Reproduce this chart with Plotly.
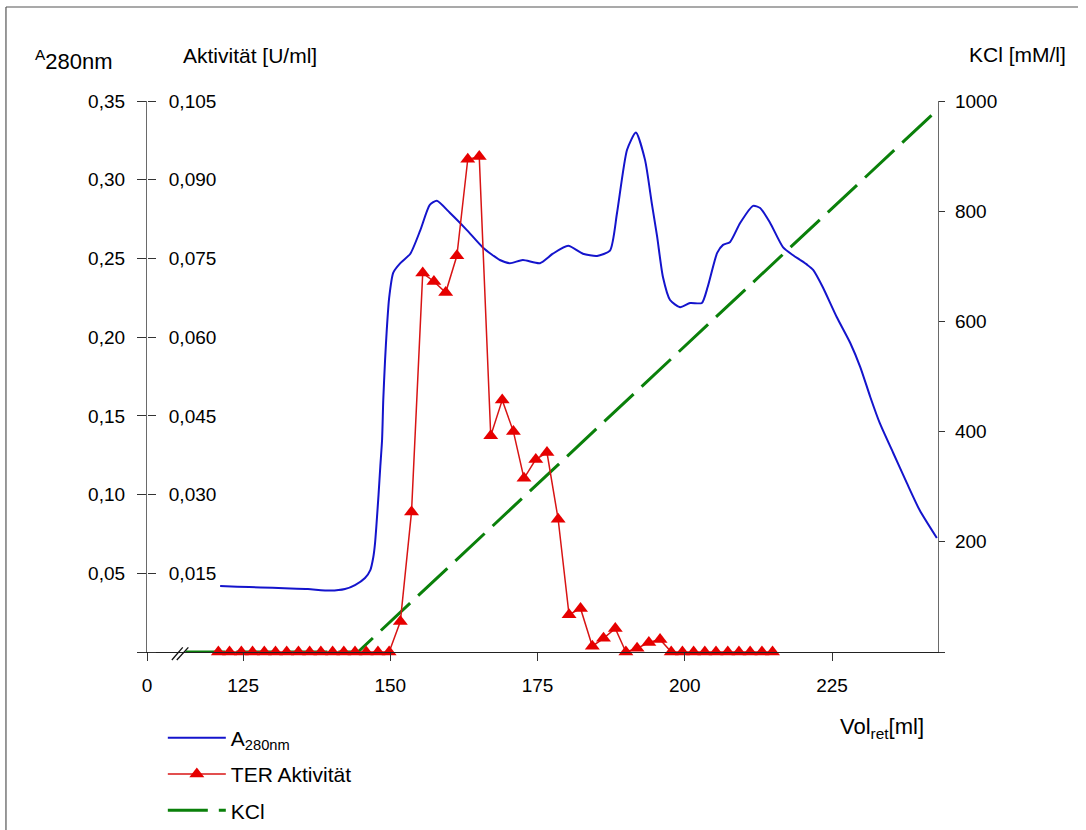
import plotly.graph_objects as go

# ---- data ----
vol_a280 = [121.1, 124.0, 128.0, 132.0, 136.0, 139.8, 142.3, 144.0, 145.7, 146.6,
            147.1, 147.4, 148.0, 148.3, 148.6, 148.8, 149.1, 149.4, 149.8, 150.5,
            151.7, 153.4, 155.1, 156.7, 157.9, 160.1, 163.0, 165.7, 168.6, 170.3,
            172.5, 175.4, 177.6, 180.2, 182.7, 185.1, 187.3, 188.5, 190.2, 191.7,
            193.25, 194.4, 195.3, 196.3, 197.5, 199.2, 200.9, 202.9, 203.9, 205.5,
            206.5, 207.7, 209.4, 211.6, 212.8, 214.5, 216.7, 218.4, 219.6, 220.8,
            221.8, 223.4, 225.8, 228.1, 229.8, 231.5, 233.1, 235.4, 237.7, 239.9,
            242.8]
a280 = [0.042, 0.0415, 0.041, 0.0405, 0.040, 0.039, 0.040, 0.0425, 0.047, 0.052,
        0.060, 0.069, 0.100, 0.118, 0.135, 0.160, 0.185, 0.205, 0.225, 0.241,
        0.247, 0.253, 0.268, 0.284, 0.2866, 0.279, 0.268, 0.257, 0.249, 0.247,
        0.249, 0.247, 0.253, 0.258, 0.253, 0.2516, 0.255, 0.279, 0.319, 0.330,
        0.3126, 0.285, 0.264, 0.238, 0.2236, 0.219, 0.2217, 0.2217, 0.232, 0.2535,
        0.2586, 0.2605, 0.2725, 0.2834, 0.282, 0.2725, 0.257, 0.252, 0.249, 0.2459,
        0.2427, 0.232, 0.2128, 0.1963, 0.181, 0.162, 0.1455, 0.1264, 0.1074, 0.090,
        0.0724]

vol_ter = [120.8, 122.7, 124.7, 126.6, 128.6, 130.5, 132.4, 134.4, 136.3, 138.2,
           140.2, 142.1, 144.0, 145.9, 147.9, 149.8, 151.7, 153.6, 155.5, 157.4,
           159.4, 161.3, 163.15, 165.1, 167.05, 169.0, 170.9, 172.7, 174.7, 176.6,
           178.5, 180.35, 182.3, 184.3, 186.2, 188.2, 190.0, 191.9, 193.9, 195.8,
           197.7, 199.6, 201.5, 203.4, 205.3, 207.3, 209.2, 211.1, 213.1, 214.9]
ter = [0, 0, 0, 0, 0, 0, 0, 0, 0, 0,
       0, 0, 0, 0, 0, 0, 0.0058, 0.0267, 0.0722, 0.0706,
       0.0685, 0.0755, 0.0939, 0.0944, 0.0412, 0.0480, 0.0420, 0.0331, 0.0367, 0.0380,
       0.0253, 0.0071, 0.0083, 0.0011, 0.0026, 0.0045, 0.0, 0.0007, 0.0018, 0.0024,
       0, 0, 0, 0, 0, 0, 0, 0, 0, 0]

vol_kcl = [115.2, 144.5, 243.0]
kcl = [0, 0, 985]

x_tickvals = [108.7, 125, 150, 175, 200, 225]
x_ticktext = ["0", "125", "150", "175", "200", "225"]
a_tickvals = [0, 0.05, 0.10, 0.15, 0.20, 0.25, 0.30, 0.35]
a_ticktext = ["", "0,05", "0,10", "0,15", "0,20", "0,25", "0,30", "0,35"]
act_tickvals = [0, 0.015, 0.030, 0.045, 0.060, 0.075, 0.090, 0.105]
act_ticktext = ["", "0,015", "0,030", "0,045", "0,060", "0,075", "0,090", "0,105"]
kcl_tickvals = [0, 200, 400, 600, 800, 1000]
kcl_ticktext = ["", "200", "400", "600", "800", "1000"]

FONT = "Arial, Liberation Sans, sans-serif"
BLUE = "#1414cc"
RED = "#e60000"
GREEN = "#0a800a"
AXC = "#6a6a6a"
TICKF = 19

fig = go.Figure()
fig.add_trace(go.Scatter(
    x=vol_a280, y=a280, mode="lines", name="A<sub>280nm</sub>",
    line=dict(color=BLUE, width=2, shape="spline", smoothing=0.6),
    yaxis="y", legendgroup="a", cliponaxis=False, legendrank=1))
fig.add_trace(go.Scatter(
    x=vol_kcl, y=kcl, mode="lines", name="KCl",
    line=dict(color=GREEN, width=3, dash="40px,11px"),
    yaxis="y2", legendgroup="c", cliponaxis=False, legendrank=3))
fig.add_trace(go.Scatter(
    x=vol_ter, y=ter, mode="lines+markers", name="TER Aktivität",
    line=dict(color="#d81414", width=1.5),
    marker=dict(symbol="triangle-up", size=13, color=RED, line=dict(width=0)),
    yaxis="y3", legendgroup="b", cliponaxis=False, legendrank=2))

# axis-break marks and figure frame (decoration)
shapes = [
    dict(type="line", xref="x", yref="paper", x0=112.9, x1=114.75, y0=-0.0145, y1=0.0085,
         line=dict(color="#111", width=1.3)),
    dict(type="line", xref="x", yref="paper", x0=113.74, x1=115.7, y0=-0.0145, y1=0.0085,
         line=dict(color="#111", width=1.3)),
    dict(type="line", xref="paper", yref="paper", x0=-0.1783, x1=-0.1783, y0=1.1706, y1=-0.33,
         line=dict(color="#555", width=1.2)),
    dict(type="line", xref="paper", yref="paper", x0=-0.1783, x1=1.177, y0=1.1706, y1=1.1706,
         line=dict(color="#555", width=1.2)),
]

annotations = [
    dict(text="<sup>A</sup>280nm", xref="paper", yref="paper", x=-0.0923, y=1.0744,
         xanchor="center", yanchor="middle",
         showarrow=False, font=dict(size=22, family=FONT, color="black")),
    dict(text="Aktivität [U/ml]", xref="paper", yref="paper", x=0.1302, y=1.0817,
         xanchor="center", yanchor="middle",
         showarrow=False, font=dict(size=21, family=FONT, color="black")),
    dict(text="KCl [mM/l]", xref="paper", yref="paper", x=1.1011, y=1.0835,
         xanchor="center", yanchor="middle",
         showarrow=False, font=dict(size=21, family=FONT, color="black")),
    dict(text="Vol<sub>ret</sub>[ml]", xref="paper", yref="paper", x=0.929, y=-0.138,
         xanchor="center", yanchor="middle",
         showarrow=False, font=dict(size=22, family=FONT, color="black")),
]

fig.update_layout(
    width=1086, height=830, autosize=False,
    margin=dict(l=147, r=148, t=101, b=178, pad=0, autoexpand=False),
    paper_bgcolor="white", plot_bgcolor="white",
    font=dict(family=FONT, size=18, color="black"),
    showlegend=True,
    legend=dict(x=0.02, y=-0.119, xanchor="left", yanchor="top",
                font=dict(size=21, family=FONT, color="black"),
                bgcolor="rgba(0,0,0,0)", tracegroupgap=6, itemwidth=58,
                traceorder="grouped"),
    xaxis=dict(range=[108.68, 243.0], tickvals=x_tickvals, ticktext=x_ticktext,
               ticks="outside", ticklen=8, tickcolor="#333", showline=True,
               linecolor="#222", linewidth=1.3, showgrid=False, zeroline=False,
               tickfont=dict(size=TICKF), ticklabelstandoff=8),
    yaxis=dict(range=[0, 0.35], tickvals=a_tickvals, ticktext=a_ticktext,
               ticks="outside", ticklen=9, tickcolor="#333", showline=True,
               linecolor=AXC, linewidth=1.3, showgrid=False, zeroline=False,
               tickfont=dict(size=TICKF), ticklabelstandoff=8),
    yaxis3=dict(range=[0, 0.105], tickvals=act_tickvals, ticktext=act_ticktext,
                overlaying="y", side="right", anchor="free", position=0,
                ticks="outside", ticklen=8, tickcolor="#333", showline=False,
                showgrid=False, zeroline=False, tickfont=dict(size=TICKF),
                ticklabelstandoff=9),
    yaxis2=dict(range=[0, 1000], tickvals=kcl_tickvals, ticktext=kcl_ticktext,
                overlaying="y", side="right", ticks="outside", ticklen=6,
                tickcolor="#333", showline=True, linecolor=AXC, linewidth=1.3,
                showgrid=False, zeroline=False, tickfont=dict(size=TICKF),
                ticklabelstandoff=6),
    shapes=shapes, annotations=annotations,
)

fig.write_html("out.html")
